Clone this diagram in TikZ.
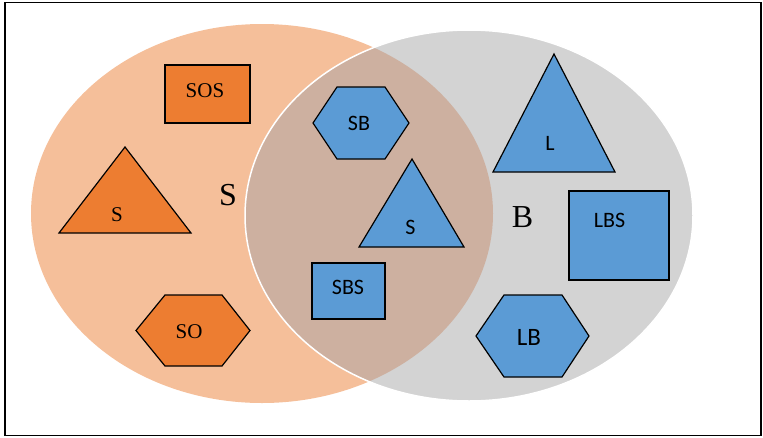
\documentclass[tikz,border=0pt]{standalone}
\usepackage{fontspec}
\setmainfont{Liberation Serif}
\newfontfamily\calibri{Carlito}
\definecolor{setS}{HTML}{F5BF9A}
\definecolor{setB}{HTML}{D3D3D3}
\definecolor{setSB}{HTML}{CDB0A0}
\definecolor{accentO}{HTML}{ED7D31}
\definecolor{accentB}{HTML}{5B9BD5}
\tikzset{
  oshape/.style={fill=accentO,draw=black,line width=1.2pt},
  bshape/.style={fill=accentB,draw=black,line width=1.2pt},
  serlab/.style={anchor=base,inner sep=0pt,font=\fontsize{21}{21}\selectfont},
  sanlab/.style={anchor=base,inner sep=0pt,font=\calibri\fontsize{22}{22}\selectfont},
  setlab/.style={anchor=base,inner sep=0pt,font=\fontsize{32}{32}\selectfont}
}

\begin{document}
\begin{tikzpicture}[x=1pt,y=-1pt]
    \useasboundingbox (0,0) rectangle (763,437);
    \draw[line width=1.5pt] (5,2.5) rectangle (761,435.5);
    % the two sets
    \fill[setS] (262,213.5) ellipse [x radius=231pt,y radius=189.5pt];
    \fill[setB] (469,215.5) ellipse [x radius=224pt,y radius=185.5pt];
    \begin{scope}
        \clip (262,213.5) ellipse [x radius=231pt,y radius=189.5pt];
        \fill[setSB] (469,215.5) ellipse [x radius=224pt,y radius=185.5pt];
    \end{scope}
    \draw[white,line width=1.5pt] (469,215.5) ellipse [x radius=224pt,y radius=185.5pt];
    \node[setlab] (setS) at (228,205) {S};
    \node[setlab] (setB) at (522.5,227) {B};
    % S only
    \draw[oshape] (165,65) rectangle (250,123);
    \node[serlab] (sos) at (205,97) {SOS};
    \draw[oshape] (59,233) -- (191,233) -- (125,147) -- cycle;
    \node[serlab] (stri) at (117,221.5) {S};
    \draw[oshape] (136,330.5) -- (165,295) -- (222,295) -- (250,330.5) -- (222,366) -- (165,366) -- cycle;
    \node[serlab] (so) at (189,338) {SO};
    % S and B
    \draw[bshape] (313,123) -- (337,87) -- (385,87) -- (409,123) -- (385,159) -- (337,159) -- cycle;
    \node[sanlab] (sb) at (359,130) {SB};
    \draw[bshape] (359,247) -- (464,247) -- (412,159) -- cycle;
    \node[sanlab] (sbtri) at (410.5,234) {S};
    \draw[bshape] (312,263) rectangle (385,319);
    \node[sanlab] (sbs) at (348,294) {SBS};
    % B only
    \draw[bshape] (493,172) -- (615,172) -- (554,54) -- cycle;
    \node[sanlab] (ltri) at (550,150.5) {L};
    \draw[bshape] (569,191) rectangle (669,280);
    \node[sanlab] (lbs) at (609.5,227) {LBS};
    \draw[bshape] (476,336) -- (504,295) -- (562,295) -- (589,336) -- (562,377) -- (504,377) -- cycle;
    \node[sanlab,font=\calibri\fontsize{25}{25}\selectfont] (lb) at (529,345) {LB};
\end{tikzpicture}
\end{document}
